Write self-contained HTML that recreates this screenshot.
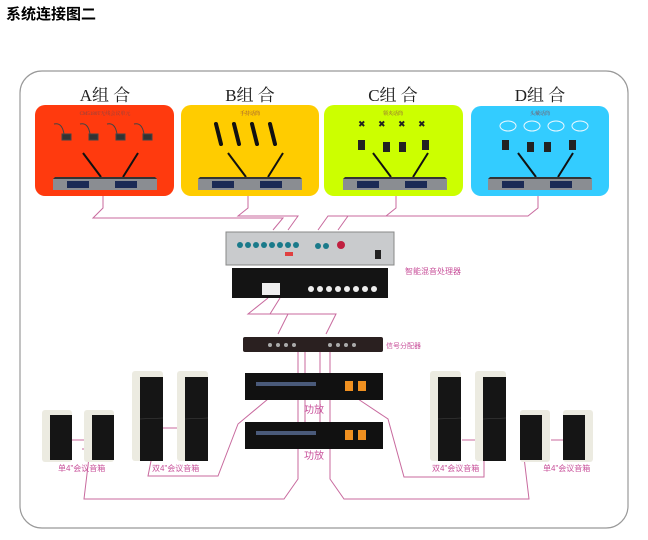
<!DOCTYPE html>
<html><head><meta charset="utf-8"><style>
html,body{margin:0;padding:0;background:#fff;width:648px;height:540px;overflow:hidden}
svg{display:block}
</style></head><body>
<svg width="648" height="540" viewBox="0 0 648 540" xmlns="http://www.w3.org/2000/svg" font-family="Liberation Serif, Noto Serif CJK SC, serif">
<defs>
<g id="rcv">
  <line x1="30" y1="0" x2="48" y2="24" stroke="#111" stroke-width="2"/>
  <line x1="85" y1="0" x2="70" y2="24" stroke="#111" stroke-width="2"/>
  <polygon points="2,24 102,24 104,26 0,26" fill="#333"/>
  <rect x="0" y="26" width="104" height="11" fill="#8a8d92"/>
  <rect x="14" y="28" width="22" height="7" fill="#1b2a55"/>
  <rect x="62" y="28" width="22" height="7" fill="#1b2a55"/>
</g>
<g id="spk">
  <rect x="0" y="0" width="31" height="90" rx="3" fill="#ecebe1"/>
  <rect x="8" y="6" width="23" height="84" fill="#151515"/>
  <line x1="8" y1="48" x2="31" y2="47" stroke="#444" stroke-width="0.6"/>
</g>
</defs>
<text x="6" y="19" font-size="15" font-weight="bold" font-family="Liberation Sans, Noto Sans CJK SC, sans-serif" fill="#000">系统连接图二</text>
<rect x="20" y="71" width="608" height="457" rx="22" fill="none" stroke="#999" stroke-width="1.2"/>

<g font-size="17" fill="#222" text-anchor="middle">
<text x="105" y="101">A组 合</text>
<text x="250" y="101">B组 合</text>
<text x="393" y="101">C组 合</text>
<text x="540" y="101">D组 合</text>
</g>
<rect x="35" y="105" width="139" height="91" rx="10" fill="#ff3a0e"/>
<rect x="181" y="105" width="138" height="91" rx="10" fill="#ffcc00"/>
<rect x="324" y="105" width="139" height="91" rx="10" fill="#ccff00"/>
<rect x="471" y="106" width="138" height="90" rx="10" fill="#33ccff"/>
<g font-size="5" fill="#844" text-anchor="middle">
<text x="105" y="115">CM5180T无线会议单元</text>
<text x="250" y="115">手持话筒</text>
<text x="393" y="115">领夹话筒</text>
<text x="540" y="115">头戴话筒</text>
</g>
<g fill="#333" stroke="#444">
<path d="M54 124 q8 -2 10 10" fill="none"/><rect x="62" y="134" width="9" height="6"/>
<path d="M80 124 q8 -2 10 10" fill="none"/><rect x="89" y="134" width="9" height="6"/>
<path d="M107 124 q8 -2 10 10" fill="none"/><rect x="116" y="134" width="9" height="6"/>
<path d="M134 124 q8 -2 10 10" fill="none"/><rect x="143" y="134" width="9" height="6"/>
</g>
<g stroke="#111" stroke-width="4" stroke-linecap="round">
<line x1="216" y1="124" x2="221" y2="144"/><line x1="234" y1="124" x2="239" y2="144"/>
<line x1="252" y1="124" x2="257" y2="144"/><line x1="270" y1="124" x2="275" y2="144"/>
</g>
<g fill="#222">
<text x="358" y="127" font-size="9">✖</text><text x="378" y="127" font-size="9">✖</text><text x="398" y="127" font-size="9">✖</text><text x="418" y="127" font-size="9">✖</text>
<rect x="358" y="140" width="7" height="10"/><rect x="383" y="142" width="7" height="10"/><rect x="399" y="142" width="7" height="10"/><rect x="422" y="140" width="7" height="10"/>
<rect x="502" y="140" width="7" height="10"/><rect x="527" y="142" width="7" height="10"/><rect x="544" y="142" width="7" height="10"/><rect x="569" y="140" width="7" height="10"/>
</g>
<g fill="none" stroke="#e8f8ff" stroke-width="1">
<ellipse cx="508" cy="126" rx="8" ry="5"/><ellipse cx="532" cy="126" rx="8" ry="5"/><ellipse cx="556" cy="126" rx="8" ry="5"/><ellipse cx="580" cy="126" rx="8" ry="5"/>
</g>
<use href="#rcv" x="53" y="153"/>
<use href="#rcv" x="198" y="153"/>
<use href="#rcv" x="343" y="153"/>
<use href="#rcv" x="488" y="153"/>

<g fill="none" stroke="#c86a9e" stroke-width="1">
<path d="M103 196 v12 l-10 10 h190 l-10 12"/>
<path d="M248 196 v12 l-10 8 h60 l-10 14"/>
<path d="M396 196 v12 l-10 8 h-58 l-10 14"/>
<path d="M538 196 v12 l-10 8 h-180 l-10 14"/>
<path d="M268 298 l-20 16 h40 l-10 20"/>
<path d="M280 298 l-10 16 h66 l-10 20"/>
<path d="M298 352 v70 M305 352 v70 M320 352 v70 M330 352 v70"/>
<path d="M298 449 v30 l-14 20 h-200 l6 -50 h-8"/>
<path d="M330 449 v30 l14 20 h185 l-6 -50 h6"/>
<path d="M268 399 l-30 25 l-20 52 h-70 l4 -20"/>
<path d="M358 399 l30 20 l16 58 h80 v-20"/>
<path d="M72 440 h12 M163 428 h14 M462 440 h13 M551 440 h12"/>
</g>

<rect x="226" y="232" width="168" height="33" fill="#c9cbcd" stroke="#888"/>
<g fill="#1a7a8a"><circle cx="240" cy="245" r="3"/><circle cx="248" cy="245" r="3"/><circle cx="256" cy="245" r="3"/><circle cx="264" cy="245" r="3"/><circle cx="272" cy="245" r="3"/><circle cx="280" cy="245" r="3"/><circle cx="288" cy="245" r="3"/><circle cx="296" cy="245" r="3"/><circle cx="318" cy="246" r="3"/><circle cx="326" cy="246" r="3"/></g>
<circle cx="341" cy="245" r="4" fill="#c02040"/>
<rect x="285" y="252" width="8" height="4" fill="#e04040"/>
<rect x="375" y="250" width="6" height="9" fill="#222"/>
<rect x="232" y="268" width="156" height="30" fill="#141414"/>
<rect x="262" y="283" width="18" height="12" fill="#eee"/>
<g fill="#eee"><circle cx="311" cy="289" r="3"/><circle cx="320" cy="289" r="3"/><circle cx="329" cy="289" r="3"/><circle cx="338" cy="289" r="3"/><circle cx="347" cy="289" r="3"/><circle cx="356" cy="289" r="3"/><circle cx="365" cy="289" r="3"/><circle cx="374" cy="289" r="3"/></g>
<text x="405" y="274" font-size="8" fill="#c8509a" font-family="Liberation Sans, Noto Sans CJK SC, sans-serif">智能混音处理器</text>
<rect x="243" y="337" width="140" height="15" rx="2" fill="#2a2020"/>
<g fill="#aaa"><circle cx="270" cy="345" r="2"/><circle cx="278" cy="345" r="2"/><circle cx="286" cy="345" r="2"/><circle cx="294" cy="345" r="2"/><circle cx="330" cy="345" r="2"/><circle cx="338" cy="345" r="2"/><circle cx="346" cy="345" r="2"/><circle cx="354" cy="345" r="2"/></g>
<text x="386" y="348" font-size="7" fill="#c8509a" font-family="Liberation Sans, Noto Sans CJK SC, sans-serif">信号分配器</text>
<g>
<rect x="245" y="373" width="138" height="27" fill="#111"/>
<rect x="256" y="382" width="60" height="4" fill="#4a5a7a"/>
<rect x="345" y="381" width="8" height="10" fill="#f09020"/><rect x="358" y="381" width="8" height="10" fill="#f09020"/>
<rect x="245" y="422" width="138" height="27" fill="#111"/>
<rect x="256" y="431" width="60" height="4" fill="#4a5a7a"/>
<rect x="345" y="430" width="8" height="10" fill="#f09020"/><rect x="358" y="430" width="8" height="10" fill="#f09020"/>
</g>
<g font-size="10" fill="#c8509a" text-anchor="middle" font-family="Liberation Sans, Noto Sans CJK SC, sans-serif">
<text x="314" y="413">功放</text><text x="314" y="459">功放</text>
</g>
<use href="#spk" x="132" y="371"/>
<use href="#spk" x="177" y="371"/>
<use href="#spk" x="430" y="371"/>
<use href="#spk" x="475" y="371"/>
<g>
<rect x="42" y="410" width="30" height="52" rx="3" fill="#ecebe1"/><rect x="50" y="415" width="22" height="45" fill="#151515"/>
<rect x="84" y="410" width="30" height="52" rx="3" fill="#ecebe1"/><rect x="92" y="415" width="22" height="45" fill="#151515"/>
<rect x="520" y="410" width="30" height="52" rx="3" fill="#ecebe1"/><rect x="520" y="415" width="22" height="45" fill="#151515"/>
<rect x="563" y="410" width="30" height="52" rx="3" fill="#ecebe1"/><rect x="563" y="415" width="22" height="45" fill="#151515"/>
</g>
<g font-size="8" fill="#c8509a" font-family="Liberation Sans, Noto Sans CJK SC, sans-serif">
<text x="58" y="471">单4"会议音箱</text>
<text x="152" y="471">双4"会议音箱</text>
<text x="432" y="471">双4"会议音箱</text>
<text x="543" y="471">单4"会议音箱</text>
</g>
</svg>
</body></html>
